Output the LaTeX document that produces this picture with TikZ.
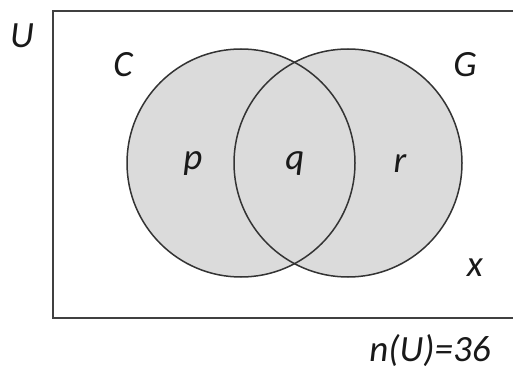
\documentclass[tikz,border=0pt]{standalone}
\usepackage{fontspec}
\setmainfont{Carlito}
\begin{document}
\begin{tikzpicture}[x=1pt,y=-1pt,
  lbl/.style={font=\fontsize{37}{37}\selectfont\itshape, text=black!90, inner sep=0pt},
  setc/.style={draw=black!80, line width=1.5pt}]
\useasboundingbox (0,0) rectangle (513,371);
\begin{scope}
\clip (0,0) rectangle (513,371);
\node[draw=black!75, line width=2pt, minimum width=470pt, minimum height=307pt, anchor=north west, inner sep=0pt] (U) at (52,10) {};
\end{scope}
\fill[gray!28] (241,163) circle (114) (348,163) circle (114);
\node[setc, circle, minimum size=228pt, inner sep=0pt] (C) at (241,163) {};
\node[setc, circle, minimum size=228pt, inner sep=0pt] (G) at (348,163) {};
\node[lbl] (tU) at (22,36) {U};
\node[lbl] (tC) at (123,65) {C};
\node[lbl] (tG) at (465,65) {G};
\node[lbl] (tp) at (193,164) {p};
\node[lbl] (tq) at (295,164) {q};
\node[lbl] (tr) at (400,164) {r};
\node[lbl] (tx) at (475,268) {x};
\node[lbl] (tn) at (430,351) {n(U)=36};
\end{tikzpicture}
\end{document}
